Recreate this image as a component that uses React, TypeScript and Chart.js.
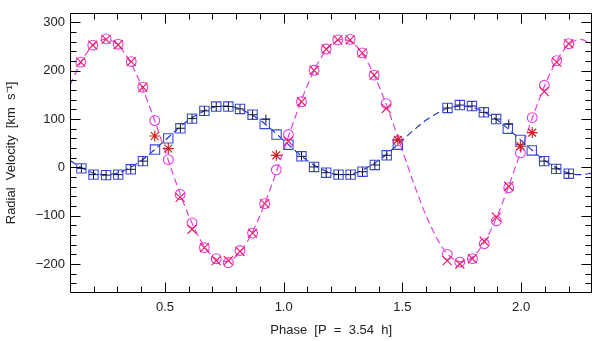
import React, { useEffect, useRef } from 'react';
import { Chart, registerables } from 'chart.js';

Chart.register(...registerables);

const CURVE_PHASE = [
  0.10, 0.15, 0.20, 0.25, 0.30, 0.35, 0.40, 0.45, 0.50, 0.55, 0.60, 0.65, 0.70, 0.75, 0.80,
  0.85, 0.90, 0.95, 1.00, 1.05, 1.10, 1.15, 1.20, 1.25, 1.30, 1.35, 1.40, 1.45, 1.50, 1.55,
  1.60, 1.65, 1.70, 1.75, 1.80, 1.85, 1.90, 1.95, 2.00, 2.05, 2.10, 2.15, 2.20, 2.25, 2.30,
];
const MAG_MODEL = [
  170, 221, 254, 265, 254, 221, 170, 106, 35, -36, -100, -151, -184, -195, -184,
  -151, -100, -36, 35, 106, 170, 221, 254, 265, 254, 221, 170, 106, 35, -36,
  -100, -151, -184, -195, -184, -151, -100, -36, 35, 106, 170, 221, 254, 265, 254,
];
const BLUE_MODEL = [
  14, -1, -12, -15, -12, -1, 14, 34, 56, 78, 98, 113, 124, 127, 124,
  113, 98, 78, 56, 34, 14, -1, -12, -15, -12, -1, 14, 34, 56, 78,
  98, 113, 124, 127, 124, 113, 98, 78, 56, 34, 14, -1, -12, -15, -12,
];

// Primary star (magenta circles)
const MAG_PHASE = [
  0.145, 0.196, 0.252, 0.303, 0.358, 0.407, 0.457, 0.514, 0.564, 0.614, 0.666, 0.716, 0.767,
  0.816, 0.869, 0.920, 0.969, 1.020, 1.075, 1.128, 1.179, 1.228, 1.280, 1.331, 1.381, 1.432,
  1.481, 1.689, 1.742, 1.795, 1.845, 1.896, 1.948, 1.997, 2.047, 2.098, 2.150, 2.201,
];
const MAG_CIRCLE = [
  218, 253, 266, 255, 219, 166, 97, 16, -56, -115, -166, -189, -197,
  -172, -136, -75, -5, 68, 136, 201, 245, 264, 265, 237, 191, 132,
  55, -180, -196, -189, -158, -111, -42, 30, 103, 170, 221, 256,
];
// Primary star, second measurement (red crosses)
const MAGX_PHASE = [
  0.145, 0.196, 0.252, 0.303, 0.358, 0.407, 0.564, 0.614, 0.666, 0.716, 0.767, 0.816, 0.869,
  0.920, 1.020, 1.075, 1.128, 1.179, 1.228, 1.280, 1.331, 1.381, 1.432, 1.689, 1.742, 1.795,
  1.845, 1.896, 1.948, 2.098, 2.150, 2.201,
];
const MAGX_VALUE = [
  218, 253, 265, 254, 219, 166, -62, -128, -166, -193, -193, -174, -136,
  -75, 54, 136, 201, 245, 264, 264, 237, 191, 122, -193, -200, -189,
  -153, -103, -39, 157, 218, 256,
];
// Blended measurements (red asterisks)
const STAR_PHASE = [0.457, 0.514, 0.969, 1.481, 1.997, 2.047];
const STAR_VALUE = [65, 39, 25, 57, 44, 72];

// Secondary star (blue squares)
const BLUE_PHASE = [
  0.148, 0.199, 0.252, 0.303, 0.356, 0.407, 0.458, 0.514, 0.565, 0.614, 0.666, 0.716, 0.767,
  0.816, 0.869, 0.920, 0.970, 1.020, 1.075, 1.128, 1.179, 1.231, 1.282, 1.332, 1.384, 1.434,
  1.481, 1.690, 1.742, 1.793, 1.843, 1.895, 1.944, 1.997, 2.045, 2.097, 2.148, 2.201,
];
const BLUE_SQUARE = [
  -2, -15, -16, -15, -4, 13, 37, 60, 81, 101, 117, 126, 126,
  121, 109, 90, 68, 47, 23, 1, -11, -15, -15, -9, 5, 25,
  47, 123, 129, 127, 114, 100, 80, 57, 35, 13, -3, -13,
];
// Secondary star, second measurement (plus signs)
const PLUS_PHASE = [
  0.148, 0.199, 0.252, 0.303, 0.356, 0.407, 0.565, 0.614, 0.666, 0.716, 0.767, 0.816, 0.869,
  0.925, 1.075, 1.128, 1.179, 1.231, 1.282, 1.332, 1.384, 1.434, 1.690, 1.742, 1.793, 1.843,
  1.895, 1.948, 2.097, 2.148, 2.201,
];
const PLUS_VALUE = [
  -2, -15, -16, -15, -4, 13, 81, 101, 117, 126, 126, 121, 109,
  100, 23, 1, -11, -15, -15, -9, 5, 25, 123, 129, 127, 114,
  100, 90, 13, -3, -13,
];

const X_MAJOR = [0.5, 1.0, 1.5, 2.0];
const Y_MAJOR = [-200, -100, 0, 100, 200, 300];
const X_MIN = 0.1;
const X_MAX = 2.3;
const Y_MIN = -260;
const Y_MAX = 320;

const X_TITLE = 'Phase  [P  =  3.54  h]';
const Y_TITLE = 'Radial  Velocity  [km  s\u207B\u00B9]';

const FONT = "'Liberation Sans', Arial, sans-serif";

const pts = (xs: number[], ys: number[]) => xs.map((x, i) => ({ x, y: ys[i] }));

const framePlugin = {
  id: 'frame',
  afterDatasetsDraw(chart: any) {
    const { ctx, chartArea: a, scales } = chart;
    const xs = scales.x;
    const ys = scales.y;
    const L = Math.round(a.left) + 0.5;
    const R = Math.round(a.right) - 0.5;
    const T = Math.round(a.top) + 0.5;
    const B = Math.round(a.bottom) - 0.5;
    ctx.save();
    ctx.strokeStyle = '#000';
    ctx.lineWidth = 1;
    ctx.beginPath();
    ctx.rect(L, T, R - L, B - T);
    ctx.stroke();
    ctx.beginPath();
    for (let k = 1; k <= 23; k++) {
      const v = k / 10;
      const major = X_MAJOR.some((m) => Math.abs(m - v) < 1e-6);
      const len = major ? 10 : 6;
      const px = Math.round(xs.getPixelForValue(v)) + 0.5;
      if (px <= L + 1 || px >= R - 1) continue;
      ctx.moveTo(px, B);
      ctx.lineTo(px, B - len);
      ctx.moveTo(px, T);
      ctx.lineTo(px, T + len);
    }
    for (let v = Y_MIN; v <= Y_MAX; v += 20) {
      const major = Y_MAJOR.includes(v);
      const len = major ? 10 : 6;
      const py = Math.round(ys.getPixelForValue(v)) + 0.5;
      if (py <= T + 1 || py >= B - 1) continue;
      ctx.moveTo(L, py);
      ctx.lineTo(L + len, py);
      ctx.moveTo(R, py);
      ctx.lineTo(R - len, py);
    }
    ctx.stroke();
    ctx.restore();
  },
};

export default function App() {
  const ref = useRef<HTMLCanvasElement | null>(null);

  useEffect(() => {
    document.body.style.margin = '0';
    const canvas = ref.current;
    if (!canvas) return;
    Chart.defaults.font.family = FONT;
    Chart.defaults.font.size = 13;
    const chart = new Chart(canvas, {
      type: 'scatter',
      data: {
        datasets: [
          {
            label: 'star X',
            data: pts(STAR_PHASE, STAR_VALUE),
            pointStyle: 'star',
            pointRadius: 5.5,
            borderColor: '#cc2222',
            backgroundColor: 'transparent',
            borderWidth: 1.2,
            order: 1,
          },
          {
            label: 'primary b',
            data: pts(MAGX_PHASE, MAGX_VALUE),
            pointStyle: 'crossRot',
            pointRadius: 6.4,
            borderColor: '#ea2060',
            backgroundColor: 'transparent',
            borderWidth: 1.2,
            order: 2,
          },
          {
            label: 'primary a',
            data: pts(MAG_PHASE, MAG_CIRCLE),
            pointStyle: 'circle',
            pointRadius: 4.9,
            borderColor: '#e040e4',
            backgroundColor: 'transparent',
            borderWidth: 1.1,
            order: 3,
          },
          {
            label: 'secondary b',
            data: pts(PLUS_PHASE, PLUS_VALUE),
            pointStyle: 'cross',
            pointRadius: 4.5,
            borderColor: '#101040',
            backgroundColor: 'transparent',
            borderWidth: 1,
            order: 4,
          },
          {
            label: 'secondary a',
            data: pts(BLUE_PHASE, BLUE_SQUARE),
            pointStyle: 'rect',
            pointRadius: 6.6,
            borderColor: '#3848dc',
            backgroundColor: 'transparent',
            borderWidth: 1.1,
            order: 5,
          },
          {
            label: 'primary model',
            data: pts(CURVE_PHASE, MAG_MODEL),
            showLine: true,
            pointRadius: 0,
            borderColor: '#e040e0',
            borderWidth: 1.2,
            borderDash: [7, 4],
            cubicInterpolationMode: 'monotone',
            order: 6,
          },
          {
            label: 'secondary model',
            data: pts(CURVE_PHASE, BLUE_MODEL),
            showLine: true,
            pointRadius: 0,
            borderColor: '#2233cc',
            borderWidth: 1.2,
            borderDash: [7, 4],
            cubicInterpolationMode: 'monotone',
            order: 7,
          },
        ],
      },
      options: {
        animation: false,
        responsive: false,
        maintainAspectRatio: false,
        layout: { padding: { left: 0, right: 3, top: 5, bottom: 0 } },
        plugins: {
          legend: { display: false },
          tooltip: { enabled: false },
        },
        scales: {
          x: {
            type: 'linear',
            min: X_MIN,
            max: X_MAX,
            grid: { display: false, drawTicks: false },
            border: { display: false },
            afterBuildTicks: (s: any) => {
              s.ticks = X_MAJOR.map((v) => ({ value: v }));
            },
            afterFit: (s: any) => {
              s.height = 48;
            },
            ticks: {
              padding: 7,
              color: '#222',
              maxRotation: 0,
              autoSkip: false,
              font: { size: 13, family: FONT },
              callback: (v: any) => Number(v).toFixed(1),
            },
            title: {
              display: true,
              text: X_TITLE,
              color: '#222',
              font: { size: 13, family: FONT },
              padding: { top: 0, bottom: 3 },
            },
          },
          y: {
            type: 'linear',
            min: Y_MIN,
            max: Y_MAX,
            grid: { display: false, drawTicks: false },
            border: { display: false },
            afterBuildTicks: (s: any) => {
              s.ticks = Y_MAJOR.map((v) => ({ value: v }));
            },
            afterFit: (s: any) => {
              s.width = 70;
            },
            ticks: {
              padding: 5,
              color: '#222',
              autoSkip: false,
              font: { size: 13, family: FONT },
              callback: (v: any) => (Number(v) < 0 ? '\u2212' + Math.abs(Number(v)) : String(v)),
            },
            title: {
              display: true,
              text: Y_TITLE,
              color: '#222',
              font: { size: 13, family: FONT },
              padding: { top: 4, bottom: 0 },
            },
          },
        },
      },
      plugins: [framePlugin],
    } as any);
    return () => chart.destroy();
  }, []);

  return (
    <div style={{ width: 600, height: 341 }}>
      <canvas ref={ref} width={600} height={341} style={{ display: 'block' }} />
    </div>
  );
}
